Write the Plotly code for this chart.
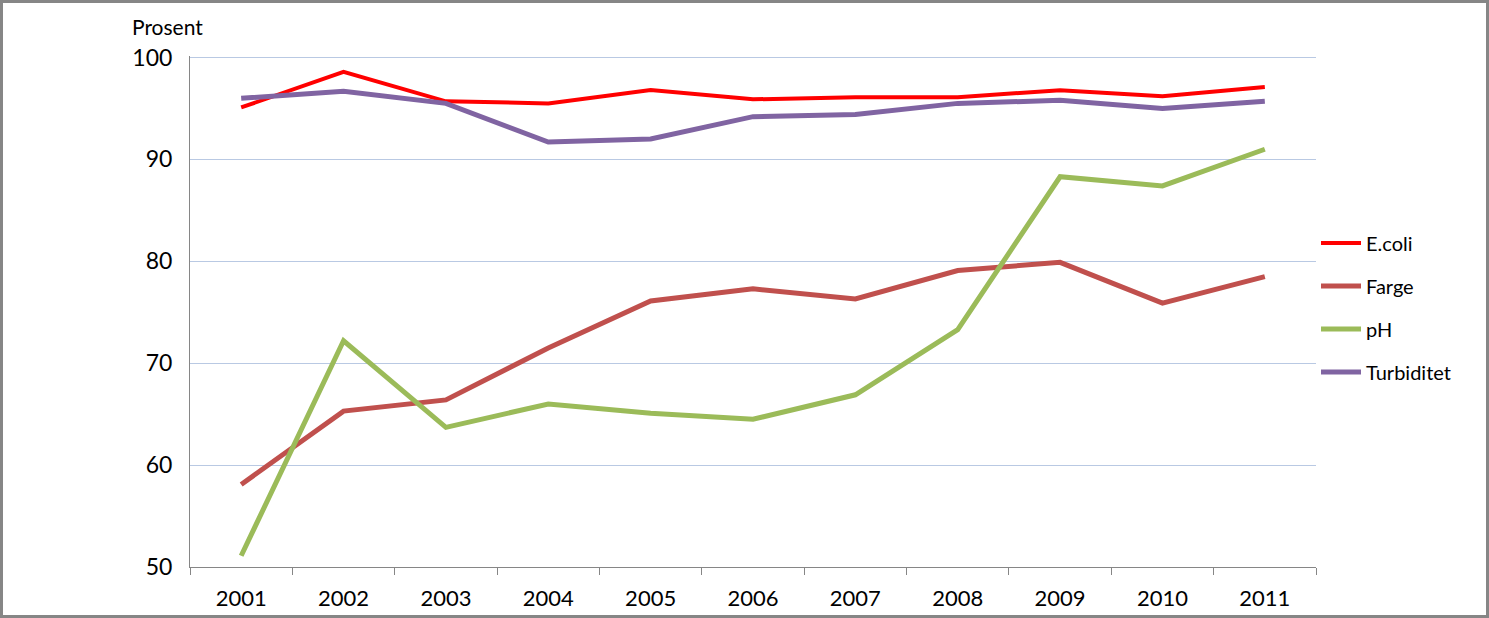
import plotly.graph_objects as go

years = ["2001", "2002", "2003", "2004", "2005", "2006", "2007", "2008", "2009", "2010", "2011"]
ecoli = [95.1, 98.6, 95.7, 95.5, 96.8, 95.9, 96.1, 96.1, 96.8, 96.2, 97.1]
farge = [58.1, 65.3, 66.4, 71.5, 76.1, 77.3, 76.3, 79.1, 79.9, 75.9, 78.5]
ph = [51.1, 72.2, 63.7, 66.0, 65.1, 64.5, 66.9, 73.3, 88.3, 87.4, 91.0]
turbiditet = [96.0, 96.7, 95.5, 91.7, 92.0, 94.2, 94.4, 95.5, 95.8, 95.0, 95.7]
y_ticks = [50, 60, 70, 80, 90, 100]

series = [
    ("E.coli", ecoli, "#FF0000", 4),
    ("Farge", farge, "#C0504D", 5),
    ("pH", ph, "#9BBB59", 5),
    ("Turbiditet", turbiditet, "#8064A2", 5),
]

FONT = "Lato"

fig = go.Figure()
for name, vals, color, w in series:
    fig.add_trace(go.Scatter(
        x=years, y=vals, name=name, mode="lines", legendgroup=name,
        line=dict(color=color, width=w),
    ))

W, H = 1489, 618
L, R, T, B = 190, 173, 56, 51

fig.update_layout(
    width=W, height=H,
    margin=dict(l=L, r=R, t=T, b=B, autoexpand=False),
    paper_bgcolor="white", plot_bgcolor="white",
    font=dict(family=FONT, size=22, color="black"),
    showlegend=True,
    legend=dict(
        x=1.0, xanchor="left", y=0.672, yanchor="top",
        font=dict(family=FONT, size=20, color="black"),
        traceorder="grouped", tracegroupgap=14, itemwidth=40,
        bgcolor="rgba(0,0,0,0)",
    ),
    xaxis=dict(
        type="category", tickson="boundaries", ticks="outside", ticklen=7,
        range=[-0.5, len(years) - 0.5], automargin=False,
        tickcolor="#868686", showline=True, linecolor="#868686", linewidth=1,
        showgrid=False, tickfont=dict(family=FONT, size=22), zeroline=False,
        ticklabelstandoff=12,
    ),
    yaxis=dict(
        range=[50, 100.15], tickvals=y_ticks, ticks="", automargin=False,
        showline=True, linecolor="#868686", linewidth=1,
        showgrid=True, gridcolor="#B9C9E3", gridwidth=1, zeroline=False,
        tickfont=dict(family=FONT, size=23), ticklabelstandoff=12,
    ),
    annotations=[dict(
        text="Prosent", xref="paper", yref="paper",
        x=-0.020, y=1.03, xanchor="center", yanchor="bottom",
        showarrow=False, font=dict(family=FONT, size=21, color="black"),
    )],
    shapes=[dict(
        type="rect", xref="paper", yref="paper",
        x0=-(L - 1.5) / (W - L - R), x1=1 + (R - 1.5) / (W - L - R),
        y0=-(B - 1.5) / (H - T - B), y1=1 + (T - 1.5) / (H - T - B),
        line=dict(color="#868686", width=3), layer="above",
    )],
)

fig.write_html(
    "out.html",
    config={"displayModeBar": False},
    post_script="document.body.style.margin='0';document.body.style.overflow='hidden';",
)
